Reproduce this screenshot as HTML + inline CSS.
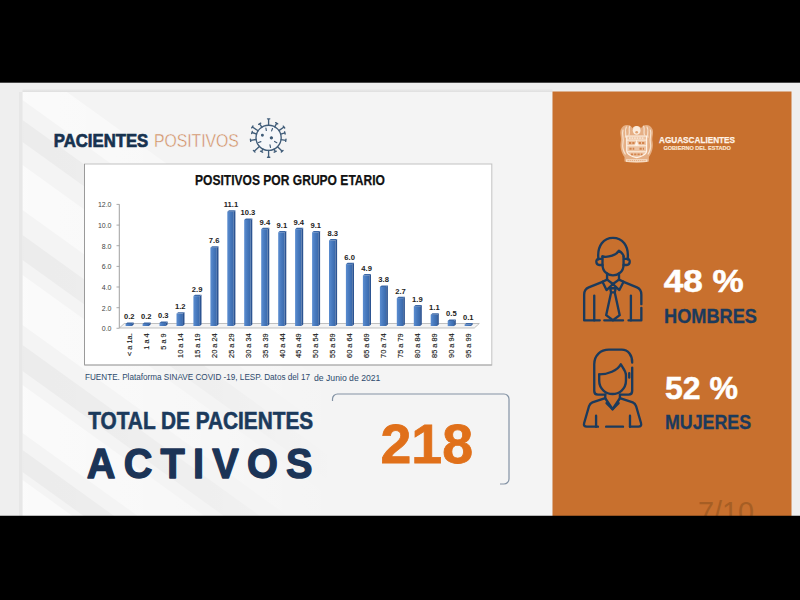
<!DOCTYPE html>
<html><head><meta charset="utf-8"><title>Pacientes Positivos</title>
<style>
html,body{margin:0;padding:0;background:#000;}
body{width:800px;height:600px;overflow:hidden;font-family:"Liberation Sans",sans-serif;}
svg{display:block}
text{font-family:"Liberation Sans",sans-serif;}
</style></head><body>
<svg width="800" height="600" viewBox="0 0 800 600">
<defs>
<linearGradient id="bf" x1="0" x2="1" y1="0" y2="0"><stop offset="0" stop-color="#5b8dd0"/><stop offset="0.5" stop-color="#4779bd"/><stop offset="1" stop-color="#3a69ab"/></linearGradient>
<linearGradient id="streak" x1="0" y1="0" x2="1" y2="1"><stop offset="0" stop-color="#fff" stop-opacity="0"/><stop offset="0.5" stop-color="#fff" stop-opacity="0.6"/><stop offset="1" stop-color="#fff" stop-opacity="0"/></linearGradient>
</defs>
<rect x="0" y="0" width="800" height="600" fill="#000"/>
<!-- slide -->
<rect x="0" y="82.7" width="800" height="433.3" fill="#efefef"/>
<rect x="22.5" y="92" width="530" height="424" fill="#f4f4f4"/>
<linearGradient id="fw" gradientUnits="userSpaceOnUse" x1="22" y1="0" x2="340" y2="0"><stop offset="0" stop-color="#fff" stop-opacity="0.6"/><stop offset="0.6" stop-color="#fff" stop-opacity="0.3"/><stop offset="1" stop-color="#fff" stop-opacity="0"/></linearGradient>
<linearGradient id="fd" gradientUnits="userSpaceOnUse" x1="22" y1="0" x2="340" y2="0"><stop offset="0" stop-color="#000" stop-opacity="0.035"/><stop offset="0.6" stop-color="#000" stop-opacity="0.02"/><stop offset="1" stop-color="#000" stop-opacity="0"/></linearGradient>
<linearGradient id="tsh" x1="0" y1="0" x2="0" y2="1"><stop offset="0" stop-color="#000" stop-opacity="0"/><stop offset="1" stop-color="#000" stop-opacity="0.07"/></linearGradient>
<clipPath id="inner"><rect x="22.5" y="92" width="530" height="424"/></clipPath>
<g clip-path="url(#inner)">
<polygon points="22.5,60.0 22.5,100.0 352.5,337.6 352.5,297.6" fill="url(#fw)"/>
<polygon points="22.5,120.0 22.5,142.0 352.5,379.6 352.5,357.6" fill="url(#fd)"/>
<polygon points="22.5,165.0 22.5,210.0 352.5,447.6 352.5,402.6" fill="url(#fw)"/>
<polygon points="22.5,235.0 22.5,260.0 352.5,497.6 352.5,472.6" fill="url(#fd)"/>
<polygon points="22.5,275.0 22.5,325.0 352.5,562.6 352.5,512.6" fill="url(#fw)"/>
<polygon points="22.5,345.0 22.5,371.0 352.5,608.6 352.5,582.6" fill="url(#fd)"/>
<polygon points="22.5,385.0 22.5,433.0 352.5,670.6 352.5,622.6" fill="url(#fw)"/>
<polygon points="22.5,450.0 22.5,472.0 352.5,709.6 352.5,687.6" fill="url(#fd)"/>
<polygon points="22.5,480.0 22.5,530.0 352.5,767.6 352.5,717.6" fill="url(#fw)"/>
</g>
<rect x="22.5" y="88.5" width="530" height="3.5" fill="url(#tsh)"/>
<rect x="19" y="92" width="3.5" height="424" fill="#000" fill-opacity="0.03"/>
<!-- orange panel -->
<rect x="552.5" y="91.5" width="239" height="424.5" fill="#c8702e"/>
<!-- heading -->
<text x="53.8" y="146.8" font-size="18.8" font-weight="bold" fill="#17324f" stroke="#17324f" stroke-width="0.7" textLength="94.4" lengthAdjust="spacingAndGlyphs">PACIENTES</text>
<text x="153.9" y="146.8" font-size="18.8" fill="#d08a5c" stroke="#f3f3f3" stroke-width="0.45" textLength="85" lengthAdjust="spacingAndGlyphs">POSITIVOS</text>
<!-- virus -->
<g id="virus" stroke="#415d79" stroke-width="1.35" fill="none" stroke-linecap="round">
<circle cx="268.6" cy="137.8" r="12.6" fill="#f5f7fa"/>
<path d="M268.6 125.2 L268.6 118.8 M267.5 118.8 L269.8 118.8 M274.7 126.8 L276.7 123.3 M275.7 122.7 L277.7 123.9 M278.9 130.6 L284.0 127.0 M283.3 126.1 L284.7 128.0 M280.7 134.2 L284.9 132.9 M284.6 131.8 L285.2 134.0 M281.1 139.6 L285.8 140.3 M286.0 139.1 L285.7 141.4 M277.5 146.7 L282.2 151.3 M283.0 150.4 L281.3 152.1 M274.1 149.2 L275.3 151.7 M276.3 151.2 L274.2 152.2 M268.6 150.4 L268.6 157.2 M269.8 157.2 L267.5 157.2 M262.9 149.0 L261.5 151.7 M262.6 152.2 L260.5 151.2 M259.4 146.4 L254.2 151.3 M255.0 152.1 L253.4 150.4 M256.1 139.5 L250.6 140.3 M250.7 141.4 L250.4 139.1 M256.6 134.0 L251.9 132.5 M251.6 133.6 L252.3 131.4 M258.1 130.8 L252.4 127.0 M251.7 127.9 L253.0 126.0 M261.8 127.2 L259.7 123.8 M258.7 124.4 L260.7 123.2"/>
<path d="M266.3 130.5 L265.9 128.0 M271.6 130.9 L272.5 128.5 M260.9 141.6 L258.5 142.5 M274.6 141.4 L276.8 142.7 M270.0 144.9 L270.5 147.5" stroke-width="1.2"/>
<circle cx="262.4" cy="135.2" r="0.8" fill="#2b4763"/>
<circle cx="271.4" cy="137.8" r="1.0" fill="#2b4763"/>
</g>
<!-- chart frame -->
<rect x="84.5" y="164" width="407.3" height="201" fill="#fff" stroke="#c2c2c2" stroke-width="1"/>
<path d="M84.5 164 V365" stroke="#9a9a9a" stroke-width="1"/>
<path d="M84.5 365 H491.8" stroke="#a8a8a8" stroke-width="1"/>
<text x="290" y="184.6" text-anchor="middle" font-size="15.3" font-weight="bold" fill="#111" stroke="#111" stroke-width="0.25" textLength="190" lengthAdjust="spacingAndGlyphs">POSITIVOS POR GRUPO ETARIO</text>
<!-- axes -->
<path d="M119.3 204.3 V328" stroke="#888" stroke-width="0.8"/>
<path d="M119.3 328 l5 -4.5 h355 l-5 4.5z" fill="#f4f4f4" stroke="#a8a8a8" stroke-width="0.7"/>
<text x="111.5" y="331.3" text-anchor="end" font-size="7" fill="#444">0.0</text>
<path d="M116.5 328.3 h2.8" stroke="#888" stroke-width="0.7"/>
<text x="111.5" y="310.7" text-anchor="end" font-size="7" fill="#444">2.0</text>
<path d="M116.5 307.7 h2.8" stroke="#888" stroke-width="0.7"/>
<text x="111.5" y="290.0" text-anchor="end" font-size="7" fill="#444">4.0</text>
<path d="M116.5 287.0 h2.8" stroke="#888" stroke-width="0.7"/>
<text x="111.5" y="269.4" text-anchor="end" font-size="7" fill="#444">6.0</text>
<path d="M116.5 266.4 h2.8" stroke="#888" stroke-width="0.7"/>
<text x="111.5" y="248.7" text-anchor="end" font-size="7" fill="#444">8.0</text>
<path d="M116.5 245.7 h2.8" stroke="#888" stroke-width="0.7"/>
<text x="111.5" y="228.1" text-anchor="end" font-size="7" fill="#444">10.0</text>
<path d="M116.5 225.1 h2.8" stroke="#888" stroke-width="0.7"/>
<text x="111.5" y="207.4" text-anchor="end" font-size="7" fill="#444">12.0</text>
<path d="M116.5 204.4 h2.8" stroke="#888" stroke-width="0.7"/>
<rect x="125.6" y="323.9" width="6.4" height="2.1" fill="url(#bf)"/>
<path d="M132.0 323.9 l1.7 -1.4 v2.1 l-1.7 1.4z" fill="#2c5492"/>
<path d="M125.6 323.9 l1.7 -1.4 h6.4 l-1.7 1.4z" fill="#3d69a8"/>
<text x="129.3" y="319.4" text-anchor="middle" font-size="7.6" font-weight="bold" fill="#222">0.2</text>
<text transform="translate(131.9 333.3) rotate(-90)" text-anchor="end" font-size="7.4" fill="#1a1a1a" stroke="#1a1a1a" stroke-width="0.15">< a 1a.</text>
<rect x="142.6" y="323.9" width="6.4" height="2.1" fill="url(#bf)"/>
<path d="M148.9 323.9 l1.7 -1.4 v2.1 l-1.7 1.4z" fill="#2c5492"/>
<path d="M142.6 323.9 l1.7 -1.4 h6.4 l-1.7 1.4z" fill="#3d69a8"/>
<text x="146.2" y="319.4" text-anchor="middle" font-size="7.6" font-weight="bold" fill="#222">0.2</text>
<text transform="translate(148.8 333.3) rotate(-90)" text-anchor="end" font-size="7.4" fill="#1a1a1a" stroke="#1a1a1a" stroke-width="0.15">1 a 4</text>
<rect x="159.5" y="322.9" width="6.4" height="3.1" fill="url(#bf)"/>
<path d="M165.9 322.9 l1.7 -1.4 v3.1 l-1.7 1.4z" fill="#2c5492"/>
<path d="M159.5 322.9 l1.7 -1.4 h6.4 l-1.7 1.4z" fill="#3d69a8"/>
<text x="163.2" y="318.4" text-anchor="middle" font-size="7.6" font-weight="bold" fill="#222">0.3</text>
<text transform="translate(165.8 333.3) rotate(-90)" text-anchor="end" font-size="7.4" fill="#1a1a1a" stroke="#1a1a1a" stroke-width="0.15">5 a 9</text>
<rect x="176.5" y="313.6" width="6.4" height="12.4" fill="url(#bf)"/>
<path d="M182.8 313.6 l1.7 -1.4 v12.4 l-1.7 1.4z" fill="#2c5492"/>
<path d="M176.5 313.6 l1.7 -1.4 h6.4 l-1.7 1.4z" fill="#3d69a8"/>
<text x="180.2" y="309.1" text-anchor="middle" font-size="7.6" font-weight="bold" fill="#222">1.2</text>
<text transform="translate(182.8 333.3) rotate(-90)" text-anchor="end" font-size="7.4" fill="#1a1a1a" stroke="#1a1a1a" stroke-width="0.15">10 a 14</text>
<rect x="193.4" y="296.1" width="6.4" height="29.9" fill="url(#bf)"/>
<path d="M199.8 296.1 l1.7 -1.4 v29.9 l-1.7 1.4z" fill="#2c5492"/>
<path d="M193.4 296.1 l1.7 -1.4 h6.4 l-1.7 1.4z" fill="#3d69a8"/>
<text x="197.1" y="291.6" text-anchor="middle" font-size="7.6" font-weight="bold" fill="#222">2.9</text>
<text transform="translate(199.7 333.3) rotate(-90)" text-anchor="end" font-size="7.4" fill="#1a1a1a" stroke="#1a1a1a" stroke-width="0.15">15 a 19</text>
<rect x="210.4" y="247.7" width="6.4" height="78.3" fill="url(#bf)"/>
<path d="M216.8 247.7 l1.7 -1.4 v78.3 l-1.7 1.4z" fill="#2c5492"/>
<path d="M210.4 247.7 l1.7 -1.4 h6.4 l-1.7 1.4z" fill="#3d69a8"/>
<text x="214.1" y="243.2" text-anchor="middle" font-size="7.6" font-weight="bold" fill="#222">7.6</text>
<text transform="translate(216.7 333.3) rotate(-90)" text-anchor="end" font-size="7.4" fill="#1a1a1a" stroke="#1a1a1a" stroke-width="0.15">20 a 24</text>
<rect x="227.3" y="211.7" width="6.4" height="114.3" fill="url(#bf)"/>
<path d="M233.7 211.7 l1.7 -1.4 v114.3 l-1.7 1.4z" fill="#2c5492"/>
<path d="M227.3 211.7 l1.7 -1.4 h6.4 l-1.7 1.4z" fill="#3d69a8"/>
<text x="231.0" y="207.2" text-anchor="middle" font-size="7.6" font-weight="bold" fill="#222">11.1</text>
<text transform="translate(233.6 333.3) rotate(-90)" text-anchor="end" font-size="7.4" fill="#1a1a1a" stroke="#1a1a1a" stroke-width="0.15">25 a 29</text>
<rect x="244.2" y="219.9" width="6.4" height="106.1" fill="url(#bf)"/>
<path d="M250.6 219.9 l1.7 -1.4 v106.1 l-1.7 1.4z" fill="#2c5492"/>
<path d="M244.2 219.9 l1.7 -1.4 h6.4 l-1.7 1.4z" fill="#3d69a8"/>
<text x="247.9" y="215.4" text-anchor="middle" font-size="7.6" font-weight="bold" fill="#222">10.3</text>
<text transform="translate(250.5 333.3) rotate(-90)" text-anchor="end" font-size="7.4" fill="#1a1a1a" stroke="#1a1a1a" stroke-width="0.15">30 a 34</text>
<rect x="261.2" y="229.2" width="6.4" height="96.8" fill="url(#bf)"/>
<path d="M267.6 229.2 l1.7 -1.4 v96.8 l-1.7 1.4z" fill="#2c5492"/>
<path d="M261.2 229.2 l1.7 -1.4 h6.4 l-1.7 1.4z" fill="#3d69a8"/>
<text x="264.9" y="224.7" text-anchor="middle" font-size="7.6" font-weight="bold" fill="#222">9.4</text>
<text transform="translate(267.5 333.3) rotate(-90)" text-anchor="end" font-size="7.4" fill="#1a1a1a" stroke="#1a1a1a" stroke-width="0.15">35 a 39</text>
<rect x="278.2" y="232.3" width="6.4" height="93.7" fill="url(#bf)"/>
<path d="M284.6 232.3 l1.7 -1.4 v93.7 l-1.7 1.4z" fill="#2c5492"/>
<path d="M278.2 232.3 l1.7 -1.4 h6.4 l-1.7 1.4z" fill="#3d69a8"/>
<text x="281.9" y="227.8" text-anchor="middle" font-size="7.6" font-weight="bold" fill="#222">9.1</text>
<text transform="translate(284.5 333.3) rotate(-90)" text-anchor="end" font-size="7.4" fill="#1a1a1a" stroke="#1a1a1a" stroke-width="0.15">40 a 44</text>
<rect x="295.1" y="229.2" width="6.4" height="96.8" fill="url(#bf)"/>
<path d="M301.5 229.2 l1.7 -1.4 v96.8 l-1.7 1.4z" fill="#2c5492"/>
<path d="M295.1 229.2 l1.7 -1.4 h6.4 l-1.7 1.4z" fill="#3d69a8"/>
<text x="298.8" y="224.7" text-anchor="middle" font-size="7.6" font-weight="bold" fill="#222">9.4</text>
<text transform="translate(301.4 333.3) rotate(-90)" text-anchor="end" font-size="7.4" fill="#1a1a1a" stroke="#1a1a1a" stroke-width="0.15">45 a 49</text>
<rect x="312.1" y="232.3" width="6.4" height="93.7" fill="url(#bf)"/>
<path d="M318.4 232.3 l1.7 -1.4 v93.7 l-1.7 1.4z" fill="#2c5492"/>
<path d="M312.1 232.3 l1.7 -1.4 h6.4 l-1.7 1.4z" fill="#3d69a8"/>
<text x="315.8" y="227.8" text-anchor="middle" font-size="7.6" font-weight="bold" fill="#222">9.1</text>
<text transform="translate(318.4 333.3) rotate(-90)" text-anchor="end" font-size="7.4" fill="#1a1a1a" stroke="#1a1a1a" stroke-width="0.15">50 a 54</text>
<rect x="329.0" y="240.5" width="6.4" height="85.5" fill="url(#bf)"/>
<path d="M335.4 240.5 l1.7 -1.4 v85.5 l-1.7 1.4z" fill="#2c5492"/>
<path d="M329.0 240.5 l1.7 -1.4 h6.4 l-1.7 1.4z" fill="#3d69a8"/>
<text x="332.7" y="236.0" text-anchor="middle" font-size="7.6" font-weight="bold" fill="#222">8.3</text>
<text transform="translate(335.3 333.3) rotate(-90)" text-anchor="end" font-size="7.4" fill="#1a1a1a" stroke="#1a1a1a" stroke-width="0.15">55 a 59</text>
<rect x="345.9" y="264.2" width="6.4" height="61.8" fill="url(#bf)"/>
<path d="M352.3 264.2 l1.7 -1.4 v61.8 l-1.7 1.4z" fill="#2c5492"/>
<path d="M345.9 264.2 l1.7 -1.4 h6.4 l-1.7 1.4z" fill="#3d69a8"/>
<text x="349.6" y="259.7" text-anchor="middle" font-size="7.6" font-weight="bold" fill="#222">6.0</text>
<text transform="translate(352.2 333.3) rotate(-90)" text-anchor="end" font-size="7.4" fill="#1a1a1a" stroke="#1a1a1a" stroke-width="0.15">60 a 64</text>
<rect x="362.9" y="275.5" width="6.4" height="50.5" fill="url(#bf)"/>
<path d="M369.3 275.5 l1.7 -1.4 v50.5 l-1.7 1.4z" fill="#2c5492"/>
<path d="M362.9 275.5 l1.7 -1.4 h6.4 l-1.7 1.4z" fill="#3d69a8"/>
<text x="366.6" y="271.0" text-anchor="middle" font-size="7.6" font-weight="bold" fill="#222">4.9</text>
<text transform="translate(369.2 333.3) rotate(-90)" text-anchor="end" font-size="7.4" fill="#1a1a1a" stroke="#1a1a1a" stroke-width="0.15">65 a 69</text>
<rect x="379.9" y="286.9" width="6.4" height="39.1" fill="url(#bf)"/>
<path d="M386.2 286.9 l1.7 -1.4 v39.1 l-1.7 1.4z" fill="#2c5492"/>
<path d="M379.9 286.9 l1.7 -1.4 h6.4 l-1.7 1.4z" fill="#3d69a8"/>
<text x="383.6" y="282.4" text-anchor="middle" font-size="7.6" font-weight="bold" fill="#222">3.8</text>
<text transform="translate(386.2 333.3) rotate(-90)" text-anchor="end" font-size="7.4" fill="#1a1a1a" stroke="#1a1a1a" stroke-width="0.15">70 a 74</text>
<rect x="396.8" y="298.2" width="6.4" height="27.8" fill="url(#bf)"/>
<path d="M403.2 298.2 l1.7 -1.4 v27.8 l-1.7 1.4z" fill="#2c5492"/>
<path d="M396.8 298.2 l1.7 -1.4 h6.4 l-1.7 1.4z" fill="#3d69a8"/>
<text x="400.5" y="293.7" text-anchor="middle" font-size="7.6" font-weight="bold" fill="#222">2.7</text>
<text transform="translate(403.1 333.3) rotate(-90)" text-anchor="end" font-size="7.4" fill="#1a1a1a" stroke="#1a1a1a" stroke-width="0.15">75 a 79</text>
<rect x="413.8" y="306.4" width="6.4" height="19.6" fill="url(#bf)"/>
<path d="M420.1 306.4 l1.7 -1.4 v19.6 l-1.7 1.4z" fill="#2c5492"/>
<path d="M413.8 306.4 l1.7 -1.4 h6.4 l-1.7 1.4z" fill="#3d69a8"/>
<text x="417.4" y="301.9" text-anchor="middle" font-size="7.6" font-weight="bold" fill="#222">1.9</text>
<text transform="translate(420.1 333.3) rotate(-90)" text-anchor="end" font-size="7.4" fill="#1a1a1a" stroke="#1a1a1a" stroke-width="0.15">80 a 84</text>
<rect x="430.7" y="314.7" width="6.4" height="11.3" fill="url(#bf)"/>
<path d="M437.1 314.7 l1.7 -1.4 v11.3 l-1.7 1.4z" fill="#2c5492"/>
<path d="M430.7 314.7 l1.7 -1.4 h6.4 l-1.7 1.4z" fill="#3d69a8"/>
<text x="434.4" y="310.2" text-anchor="middle" font-size="7.6" font-weight="bold" fill="#222">1.1</text>
<text transform="translate(437.0 333.3) rotate(-90)" text-anchor="end" font-size="7.4" fill="#1a1a1a" stroke="#1a1a1a" stroke-width="0.15">85 a 89</text>
<rect x="447.7" y="320.9" width="6.4" height="5.2" fill="url(#bf)"/>
<path d="M454.1 320.9 l1.7 -1.4 v5.2 l-1.7 1.4z" fill="#2c5492"/>
<path d="M447.7 320.9 l1.7 -1.4 h6.4 l-1.7 1.4z" fill="#3d69a8"/>
<text x="451.4" y="316.4" text-anchor="middle" font-size="7.6" font-weight="bold" fill="#222">0.5</text>
<text transform="translate(454.0 333.3) rotate(-90)" text-anchor="end" font-size="7.4" fill="#1a1a1a" stroke="#1a1a1a" stroke-width="0.15">90 a 94</text>
<rect x="464.6" y="324.5" width="6.4" height="1.5" fill="url(#bf)"/>
<path d="M471.0 324.5 l1.7 -1.4 v1.5 l-1.7 1.4z" fill="#2c5492"/>
<path d="M464.6 324.5 l1.7 -1.4 h6.4 l-1.7 1.4z" fill="#3d69a8"/>
<text x="468.3" y="320.0" text-anchor="middle" font-size="7.6" font-weight="bold" fill="#222">0.1</text>
<text transform="translate(470.9 333.3) rotate(-90)" text-anchor="end" font-size="7.4" fill="#1a1a1a" stroke="#1a1a1a" stroke-width="0.15">95 a 99</text>
<!-- footnote -->
<text x="85" y="380.4" font-size="8.9" fill="#2d4a6c" textLength="225" lengthAdjust="spacingAndGlyphs">FUENTE. Plataforma SINAVE COVID -19, LESP. Datos del 17</text>
<text x="314" y="380.5" font-size="9.6" fill="#2d4a6c" textLength="66.4" lengthAdjust="spacingAndGlyphs">de Junio de 2021</text>
<!-- total -->
<text x="88.2" y="428.6" font-size="24.2" font-weight="bold" fill="#1b3a5c" stroke="#1b3a5c" stroke-width="0.6" textLength="225" lengthAdjust="spacingAndGlyphs">TOTAL DE PACIENTES</text>
<text transform="translate(86.8 477.8) scale(0.92 1)" font-size="43.2" font-weight="bold" fill="#1b3457" stroke="#1b3457" stroke-width="1.4" stroke-linejoin="round" textLength="245.4" lengthAdjust="spacing">ACTIVOS</text>
<!-- box -->
<path d="M332.5 401 V399 a5 5 0 0 1 5 -5 H504 a5 5 0 0 1 5 5 V479 a5 5 0 0 1 -5 5 H500" fill="none" stroke="#8392a4" stroke-width="1.2"/>
<text x="380.5" y="462.5" font-size="56.3" font-weight="bold" fill="#e0701a" stroke="#e0701a" stroke-width="0.8" textLength="92.5" lengthAdjust="spacingAndGlyphs">218</text>
<!-- crest -->
<defs><filter id="bl" x="-10%" y="-10%" width="120%" height="120%"><feGaussianBlur stdDeviation="3.2"/></filter></defs>
<g transform="translate(617 121) scale(0.075)" filter="url(#bl)">
<path d="M205 95 C170 35 80 40 52 110 C30 165 65 220 50 280 C38 345 60 430 100 480 L100 540 C190 565 340 565 425 540 L425 480 C465 430 487 345 475 280 C460 220 495 165 473 110 C445 40 355 35 320 95 C300 55 225 55 205 95 Z" fill="#fde4cc" fill-opacity="0.55"/>
<path d="M80 120 C60 180 95 230 80 290 C70 340 85 400 110 440 M125 80 C95 130 130 170 112 215 M170 70 C150 110 175 140 160 185 M445 120 C465 180 430 230 445 290 C455 340 440 400 415 440 M400 80 C430 130 395 170 413 215 M355 70 C375 110 350 140 365 185" stroke="#fff6ec" stroke-width="16" stroke-opacity="0.7" fill="none" stroke-linecap="round"/>
<path d="M130 200 H395 V400 C395 445 320 480 262 488 C205 480 130 445 130 400 Z" fill="#fde9d6" fill-opacity="0.35" stroke="#fff6ec" stroke-width="16" stroke-opacity="0.95"/>
<path d="M130 255 H395 M130 330 H395 M262 255 V330 M140 410 H385" stroke="#fff6ec" stroke-width="13" stroke-opacity="0.85" fill="none"/>
<path d="M160 228 H365" stroke="#fff6ec" stroke-width="24" stroke-opacity="0.6" stroke-dasharray="22 12" fill="none"/>
<path d="M160 293 H235 M290 293 H365 M165 370 H230 M300 370 H360 M185 445 H340" stroke="#cc7434" stroke-width="26" stroke-opacity="0.8" fill="none" stroke-dasharray="30 14"/>
<path d="M262 265 L295 325 H230 Z" fill="#fff6ec" fill-opacity="0.85"/>
<ellipse cx="262" cy="125" rx="52" ry="58" fill="#fff6ec" fill-opacity="0.85"/>
<circle cx="262" cy="150" r="18" fill="#d68446" fill-opacity="0.7"/>
<path d="M120 528 H405" stroke="#fff3e6" stroke-width="36" stroke-opacity="0.7"/>
<path d="M140 528 H385" stroke="#d98b52" stroke-width="12" stroke-opacity="0.7" stroke-dasharray="18 10"/>
</g>
<!-- logo text -->
<text x="659" y="143.3" font-size="9.2" font-weight="bold" fill="#fff3e8" stroke="#fff3e8" stroke-width="0.25" textLength="76" lengthAdjust="spacingAndGlyphs">AGUASCALIENTES</text>
<text x="663.4" y="149.8" font-size="5.2" font-weight="bold" fill="#fbe6d3" stroke="#fbe6d3" stroke-width="0.15" textLength="67.4" lengthAdjust="spacingAndGlyphs">GOBIERNO DEL ESTADO</text>
<!-- percentages -->
<text x="663.7" y="292" font-size="30.5" font-weight="bold" fill="#fff" stroke="#fff" stroke-width="0.5" textLength="80" lengthAdjust="spacingAndGlyphs">48 %</text>
<text x="664" y="322.6" font-size="20.3" font-weight="bold" fill="#1b3a5c" stroke="#1b3a5c" stroke-width="0.3" textLength="93" lengthAdjust="spacingAndGlyphs">HOMBRES</text>
<text x="664.9" y="399.2" font-size="30.5" font-weight="bold" fill="#fff" stroke="#fff" stroke-width="0.5" textLength="73" lengthAdjust="spacingAndGlyphs">52 %</text>
<text x="664.9" y="429.3" font-size="20.3" font-weight="bold" fill="#1b3a5c" stroke="#1b3a5c" stroke-width="0.3" textLength="86.3" lengthAdjust="spacingAndGlyphs">MUJERES</text>
<!-- man icon -->
<g transform="translate(575 225) scale(0.18328)" fill="none" stroke="#1b3a5c" stroke-width="12.8" stroke-linecap="round" stroke-linejoin="round">
<path d="M128 188 C118 110 160 70 207 70 C255 70 297 110 287 188"/>
<path d="M150 172 C185 178 225 165 240 140 C255 150 265 160 265 172"/>
<path d="M150 172 V215 C150 255 180 275 207 275 C235 275 265 255 265 215 V172"/>
<path d="M148 185 H128 C112 185 112 218 132 218 H150"/>
<path d="M267 185 H287 C303 185 303 218 283 218 H265"/>
<path d="M175 266 V298 M240 266 V298"/>
<path d="M175 298 L150 310 L172 355 L207 322 L242 355 L265 310 L240 298"/>
<path d="M175 298 L207 322 L240 298"/>
<path d="M150 310 L75 340 C58 347 50 360 50 380 V520 H135"/>
<path d="M265 310 L338 340 C355 347 362 360 362 380 V432 M362 452 V520 H292 M160 520 H262"/>
<path d="M105 385 V520 M305 385 V520"/>
<path d="M192 345 H222 L217 368 H197 Z"/>
<path d="M197 368 L170 492 L207 520 L244 492 L217 368"/>
</g>
<!-- woman icon -->
<g transform="translate(575 335) scale(0.18328)" fill="none" stroke="#1b3a5c" stroke-width="12.8" stroke-linecap="round" stroke-linejoin="round">
<path d="M165 325 H125 C112 325 105 318 105 305 V160 C105 110 140 80 185 80 H255 C290 80 312 110 312 150"/>
<path d="M312 178 V305 C312 318 305 325 292 325 H248"/>
<path d="M132 215 C180 215 230 195 250 160 C262 180 275 195 278 215"/>
<path d="M132 215 V250 C132 295 170 322 205 322 C240 322 278 295 278 250 V215"/>
<path d="M296 208 V232"/>
<path d="M165 325 V345 L205 405 L245 345 V325"/>
<path d="M165 345 L95 368 C85 372 80 378 76 390 L50 480 C46 494 52 500 64 500 H125"/>
<path d="M245 345 L315 368 C325 372 330 378 334 390 L360 480 C364 494 358 500 346 500 H300 M170 500 H262"/>
<path d="M172 372 L205 405 L238 372"/>
<path d="M115 440 V500 M300 440 V500"/>
</g>
<!-- page num -->
<text x="698" y="521.5" font-size="29" fill="#a65e24" textLength="56" lengthAdjust="spacingAndGlyphs">7/10</text>
<rect x="0" y="515.75" width="800" height="84.25" fill="#000"/>
</svg>
</body></html>
